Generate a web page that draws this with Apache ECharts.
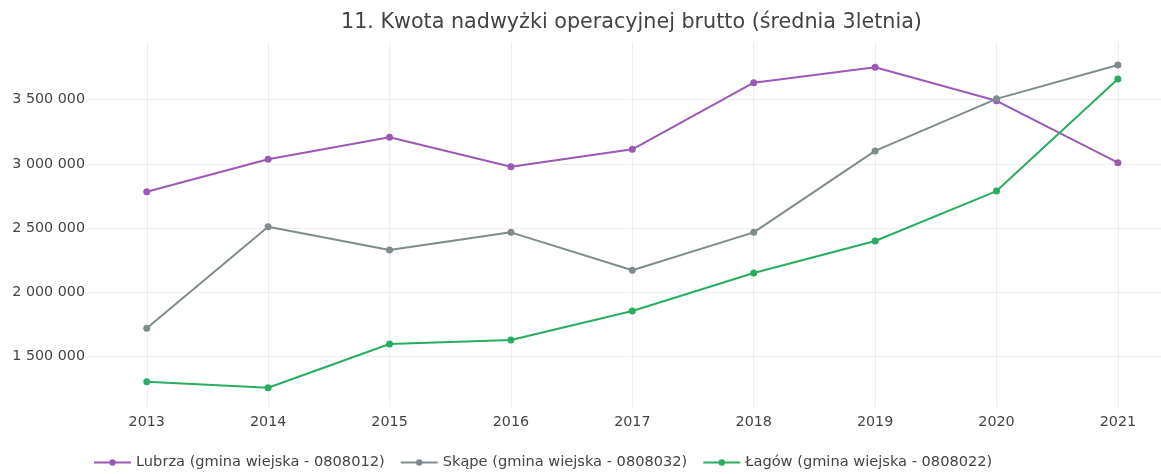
<!DOCTYPE html>
<html>
<head>
<meta charset="utf-8">
<title>Kwota nadwyżki operacyjnej brutto</title>
<script src="https://cdn.jsdelivr.net/npm/echarts@6/dist/echarts.min.js"></script>
<style>
  html, body { margin: 0; padding: 0; background: #fff; }
  #chart { width: 1161px; height: 474px; }
</style>
</head>
<body>
<div id="chart"></div>
<script>
// lata (oś X)
const years = [2013, 2014, 2015, 2016, 2017, 2018, 2019, 2020, 2021]
// wartości
const lubrza = [2783000, 3035000, 3206000, 2977000, 3113000, 3631000, 3750000, 3490000, 3009000]
const skape = [1721000, 2511000, 2330000, 2467000, 2172000, 2467000, 3100000, 3505000, 3768000]
const lagow = [1306000, 1259000, 1599000, 1630000, 1855000, 2151000, 2400000, 2788000, 3659000]
// podziałka osi Y
const yTicks = [1500000, 2000000, 2500000, 3000000, 3500000]

const seriesNames = [
  'Lubrza (gmina wiejska - 0808012)',
  'Skąpe (gmina wiejska - 0808032)',
  'Łagów (gmina wiejska - 0808022)'
]
const seriesColors = ['#9b59b6', '#7f8c8d', '#27ae60']
const seriesData = [lubrza, skape, lagow]

const fmt = (v) => String(Math.round(v)).replace(/\B(?=(\d{3})+(?!\d))/g, ' ')

const chart = echarts.init(document.getElementById('chart'))
const font = '"DejaVu Sans", Verdana, sans-serif'

const option = {
  animation: false,
  textStyle: { fontFamily: font },
  title: {
    text: '11. Kwota nadwyżki operacyjnej brutto (średnia 3letnia)',
    left: 341,
    top: 12,
    padding: 0,
    textStyle: { fontSize: 20.7, fontWeight: 'normal', color: '#444', fontFamily: font }
  },
  legend: {
    left: 93,
    top: 455,
    padding: 0,
    itemWidth: 37,
    itemHeight: 8,
    itemGap: 15,
    textStyle: { fontSize: 14.6, color: '#444', fontFamily: font },
    data: seriesNames
  },
  grid: {
    left: 88,
    right: 0,
    top: 42,
    bottom: 67
  },
  xAxis: {
    type: 'value',
    min: 2012.516,
    max: 2021.355,
    axisLine: { show: false },
    axisTick: { show: false, customValues: years },
    axisLabel: {
      customValues: years,
      margin: 8,
      fontSize: 14.3,
      color: '#444',
      formatter: (v) => String(v)
    },
    splitLine: { show: true, lineStyle: { color: '#eeeeee', width: 1 } }
  },
  yAxis: {
    type: 'value',
    min: 1109000,
    max: 3947000,
    axisLine: { show: false },
    axisTick: { show: false, customValues: yTicks },
    axisLabel: {
      customValues: yTicks,
      margin: 3,
      fontSize: 14.3,
      color: '#444',
      formatter: fmt
    },
    splitLine: { show: true, lineStyle: { color: '#eeeeee', width: 1 } }
  },
  series: seriesNames.map((name, i) => ({
    name: name,
    type: 'line',
    data: years.map((y, j) => [y, seriesData[i][j]]),
    symbol: 'circle',
    symbolSize: 7,
    lineStyle: { width: 2, color: seriesColors[i] },
    itemStyle: { color: seriesColors[i] }
  }))
}

chart.setOption(option)
</script>
</body>
</html>
